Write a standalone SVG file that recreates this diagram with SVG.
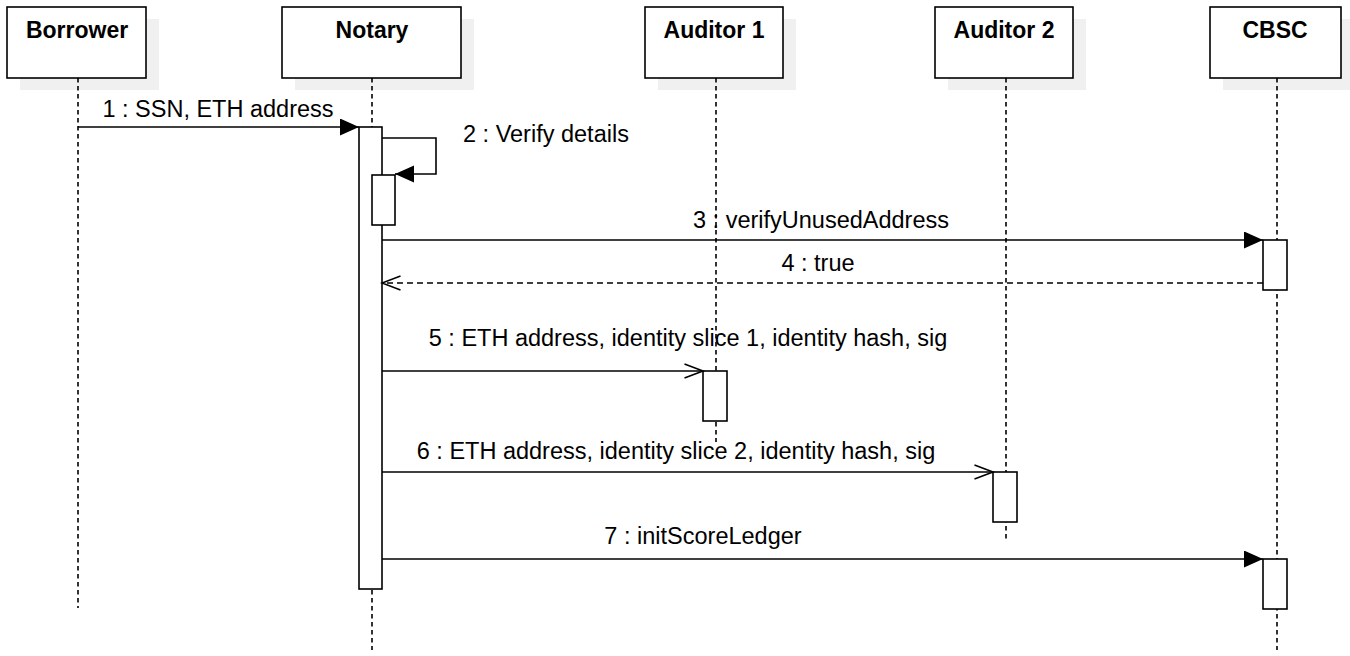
<svg xmlns="http://www.w3.org/2000/svg" width="1350" height="656" viewBox="0 0 1350 656">
<style>
  .hdr{fill:#fff;stroke:#000;stroke-width:1.6}
  .shd{fill:#f0f0f0;stroke:none}
  .ht{font-family:"Liberation Sans",Arial,sans-serif;font-size:23px;font-weight:bold;text-anchor:middle;fill:#000}
  .life{stroke:#000;stroke-width:1.6;stroke-dasharray:4.5 3.5;fill:none}
  .act{fill:#fff;stroke:#000;stroke-width:1.6}
  .msg{stroke:#000;stroke-width:1.6;fill:none}
  .ret{stroke:#000;stroke-width:1.6;fill:none;stroke-dasharray:6 4}
  .lbl{font-family:"Liberation Sans",Arial,sans-serif;font-size:23.5px;fill:#000}
  .c{text-anchor:middle}
</style>
<defs>
  <marker id="fill" markerUnits="userSpaceOnUse" markerWidth="20" markerHeight="18" refX="19" refY="8.5" orient="auto" viewBox="0 0 20 18">
    <path d="M0,0 L19,8.5 L0,17 Z" fill="#000"/>
  </marker>
  <marker id="open" markerUnits="userSpaceOnUse" markerWidth="22" markerHeight="18" refX="19.5" refY="8" orient="auto" viewBox="0 0 22 18">
    <path d="M1,1 L19.5,8 L1,15" fill="none" stroke="#000" stroke-width="1.6"/>
  </marker>
</defs>
<rect width="1350" height="656" fill="#fff"/>

<g id="borrower">
  <rect class="shd" x="20" y="19" width="139" height="71"/>
  <line class="life" x1="78" y1="78" x2="78" y2="608"/>
  <rect class="hdr" x="7" y="7" width="139" height="71"/>
  <text class="ht" x="77" y="38">Borrower</text>
</g>
<g id="notary">
  <rect class="shd" x="295" y="19" width="179" height="71"/>
  <line class="life" x1="372" y1="78" x2="372" y2="650"/>
  <rect class="hdr" x="282" y="7" width="179" height="71"/>
  <text class="ht" x="372" y="38">Notary</text>
  <rect class="act" x="359" y="127" width="23" height="462"/>
  <rect class="act" x="372" y="175" width="23" height="50"/>
</g>
<g id="auditor1">
  <rect class="shd" x="658" y="19" width="138" height="71"/>
  <line class="life" x1="716" y1="78" x2="716" y2="442"/>
  <rect class="hdr" x="645" y="7" width="138" height="71"/>
  <text class="ht" x="714" y="38">Auditor 1</text>
  <rect class="act" x="703" y="371" width="24" height="50"/>
</g>
<g id="auditor2">
  <rect class="shd" x="948" y="19" width="138" height="71"/>
  <line class="life" x1="1006" y1="78" x2="1006" y2="542"/>
  <rect class="hdr" x="935" y="7" width="138" height="71"/>
  <text class="ht" x="1004" y="38">Auditor 2</text>
  <rect class="act" x="993" y="472" width="24" height="50"/>
</g>
<g id="cbsc">
  <rect class="shd" x="1223" y="19" width="131" height="71"/>
  <line class="life" x1="1277" y1="78" x2="1277" y2="650"/>
  <rect class="hdr" x="1210" y="7" width="131" height="71"/>
  <text class="ht" x="1275" y="38">CBSC</text>
  <rect class="act" x="1263" y="240" width="24" height="50"/>
  <rect class="act" x="1263" y="559" width="24" height="50"/>
</g>

<g id="connectors">
  <line class="msg" x1="78" y1="127" x2="359" y2="127" marker-end="url(#fill)"/>
  <text class="lbl c" x="218" y="117">1 : SSN, ETH address</text>

  <polyline class="msg" points="382,138 436,138 436,174 395,174" marker-end="url(#fill)"/>
  <text class="lbl" x="463" y="142">2 : Verify details</text>

  <line class="msg" x1="382" y1="240" x2="1263" y2="240" marker-end="url(#fill)"/>
  <text class="lbl c" x="821" y="228">3 : verifyUnusedAddress</text>

  <line class="ret" x1="1263" y1="283" x2="382" y2="283" marker-end="url(#open)"/>
  <text class="lbl c" x="818" y="271">4 : true</text>

  <line class="msg" x1="382" y1="371" x2="703" y2="371" marker-end="url(#open)"/>
  <text class="lbl c" x="688" y="346">5 : ETH address, identity slice 1, identity hash, sig</text>

  <line class="msg" x1="382" y1="472" x2="993" y2="472" marker-end="url(#open)"/>
  <text class="lbl c" x="676" y="459">6 : ETH address, identity slice 2, identity hash, sig</text>

  <line class="msg" x1="382" y1="559" x2="1263" y2="559" marker-end="url(#fill)"/>
  <text class="lbl c" x="703" y="544">7 : initScoreLedger</text>
</g>
</svg>
